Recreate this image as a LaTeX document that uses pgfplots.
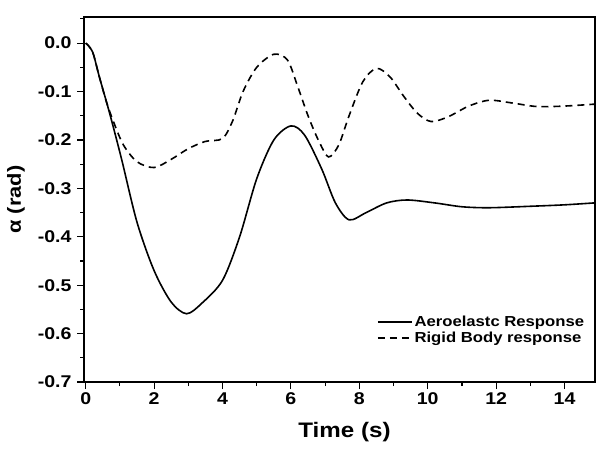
\documentclass[border=0pt]{standalone}
\usepackage{fontspec}
\setmainfont{Liberation Sans}[FakeStretch=1.15]
\usepackage{pgfplots}
\pgfplotsset{compat=1.18}
\begin{document}
\begin{tikzpicture}
\begin{axis}[
  scale only axis, width=511pt, height=365pt,
  at={(0,0)}, anchor=south west,
  xmin=-0.05, xmax=14.89, ymin=-0.7, ymax=0.054,
  xtick={0,2,...,14}, minor xtick={1,3,...,13},
  ytick={-0.7,-0.6,...,0.01}, minor ytick={-0.65,-0.55,...,0.0},
  yticklabels={-0.7,-0.6,-0.5,-0.4,-0.3,-0.2,-0.1,0.0},
  xticklabels={0,2,4,6,8,10,12,14},
  tick align=outside, axis line style={line width=1.2pt},
  major tick length=7pt, minor tick length=4pt,
  every tick/.style={line width=1.1pt, black},
  xtick pos=bottom, ytick pos=left,
  tick label style={font=\fontsize{17}{17}\selectfont\bfseries},
  yticklabel style={xshift=-2pt},
  xlabel={Time (s)}, ylabel={α (rad)},
  xlabel style={font=\fontsize{21}{21}\selectfont\bfseries, yshift=-11pt, xshift=5pt},
  ylabel style={font=\fontsize{19}{19}\selectfont\bfseries, yshift=6pt},
  legend style={draw=none, fill=none, font=\fontsize{14.5}{14.5}\selectfont\bfseries,
    at={(rel axis cs:0.985,0.095)}, anchor=south east, row sep=0pt,
    inner sep=1pt},
  legend cell align=left,
  legend image code/.code={\draw[#1, line width=1.4pt] (0pt,0pt) -- (34pt,0pt);},
]
\addplot[black, line width=1.6pt, smooth] coordinates {
(0,0) (0.2,-0.018) (0.4,-0.07) (0.7,-0.145) (1.05,-0.24) (1.5,-0.37) (2.0,-0.47)
(2.5,-0.535) (2.95,-0.559) (3.4,-0.537) (4.0,-0.49) (4.5,-0.40) (5.0,-0.28)
(5.5,-0.20) (6.0,-0.171) (6.4,-0.19) (6.9,-0.26) (7.3,-0.33) (7.7,-0.365)
(8.2,-0.35) (8.8,-0.33) (9.4,-0.324) (10.2,-0.33) (11.0,-0.338) (11.8,-0.34)
(13.0,-0.337) (14.0,-0.334) (14.88,-0.33)
};
\addlegendentry{Aeroelastc Response}
\addplot[black, line width=1.6pt, smooth, dash pattern=on 7pt off 5pt] coordinates {
(0,0) (0.2,-0.018) (0.4,-0.07) (0.6,-0.12) (0.8,-0.16) (1.1,-0.21) (1.5,-0.245)
(2.0,-0.257) (2.5,-0.24) (3.0,-0.218) (3.5,-0.203) (4.0,-0.197) (4.3,-0.16)
(4.6,-0.10) (5.0,-0.05) (5.5,-0.023) (5.9,-0.035) (6.2,-0.09) (6.5,-0.15)
(6.8,-0.2) (7.1,-0.235) (7.4,-0.21) (7.7,-0.15) (8.1,-0.08) (8.5,-0.052)
(8.9,-0.07) (9.3,-0.11) (9.7,-0.145) (10.1,-0.162) (10.6,-0.152) (11.2,-0.13)
(11.8,-0.118) (12.5,-0.124) (13.2,-0.131) (14.0,-0.13) (14.88,-0.126)
};
\addlegendentry{Rigid Body response}
\end{axis}
\pgfresetboundingbox
\path (-84pt,-68pt) rectangle (512pt,382pt);
\end{tikzpicture}
\end{document}
